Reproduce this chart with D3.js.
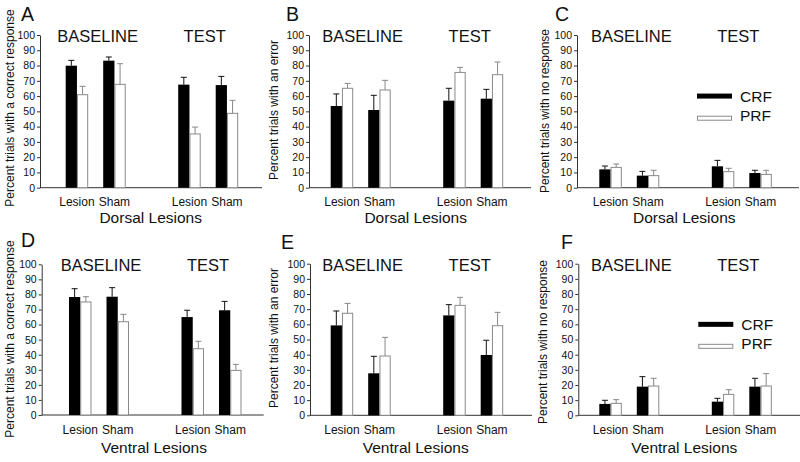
<!DOCTYPE html>
<html>
<head>
<meta charset="utf-8">
<script src="https://cdn.jsdelivr.net/npm/d3@7"></script>
<style>
  html, body { margin: 0; padding: 0; background: #fff; }
  svg { display: block; }
  text { font-family: "Liberation Sans", Arial, sans-serif; fill: #111; }
</style>
</head>
<body>
<svg id="chart" width="800" height="462"></svg>
<script>
// ---------- data ----------
const phases = ["BASELINE", "TEST"];
const groups = ["Lesion", "Sham"];
const series = ["CRF", "PRF"];
const yTicks = [0, 10, 20, 30, 40, 50, 60, 70, 80, 90, 100];

const panelLetters = ["A", "B", "C", "D", "E", "F"];
const yLabels = [
  "Percent trials with a correct response",
  "Percent trials with an error",
  "Percent trials with no response",
  "Percent trials with a correct response",
  "Percent trials with an error",
  "Percent trials with no response"
];
const xTitles = ["Dorsal Lesions", "Dorsal Lesions", "Dorsal Lesions",
                 "Ventral Lesions", "Ventral Lesions", "Ventral Lesions"];

// order in each array: BASELINE-Lesion, BASELINE-Sham, TEST-Lesion, TEST-Sham
const crfA = [79.9, 83.2, 67.5, 67.2];  const crfErrA = [3.5, 2.4, 4.8, 5.7];
const prfA = [60.9, 67.7, 35.2, 48.7];  const prfErrA = [5.5, 13.5, 4.5, 8.5];
const crfB = [53.5, 50.9, 57.0, 58.3];  const crfErrB = [7.9, 9.6, 8.1, 6.1];
const prfB = [65.1, 64.0, 75.5, 74.0];  const prfErrB = [3.2, 6.3, 3.3, 8.3];
const crfC = [12.0, 7.9, 14.0, 9.6];    const crfErrC = [2.2, 2.8, 3.9, 1.8];
const prfC = [13.3, 7.9, 10.5, 8.7];    const prfErrC = [2.2, 3.5, 2.2, 2.7];
const crfD = [78.3, 78.5, 65.0, 69.5];  const crfErrD = [5.5, 6.0, 4.5, 5.9];
const prfD = [75.0, 61.9, 44.0, 29.6];  const prfErrD = [3.5, 4.9, 4.9, 4.0];
const crfE = [59.3, 27.7, 65.9, 39.8];  const crfErrE = [9.5, 11.2, 7.1, 9.7];
const prfE = [67.3, 39.1, 72.5, 59.1];  const prfErrE = [6.5, 12.3, 5.3, 8.8];
const crfF = [7.5, 18.9, 9.0, 18.9];    const crfErrF = [2.4, 6.6, 2.2, 5.5];
const prfF = [7.9, 19.3, 13.8, 19.3];   const prfErrF = [2.4, 5.1, 3.1, 8.2];

const panelData = [
  { crf: crfA, crfErr: crfErrA, prf: prfA, prfErr: prfErrA, legend: false },
  { crf: crfB, crfErr: crfErrB, prf: prfB, prfErr: prfErrB, legend: false },
  { crf: crfC, crfErr: crfErrC, prf: prfC, prfErr: prfErrC, legend: true },
  { crf: crfD, crfErr: crfErrD, prf: prfD, prfErr: prfErrD, legend: false },
  { crf: crfE, crfErr: crfErrE, prf: prfE, prfErr: prfErrE, legend: false },
  { crf: crfF, crfErr: crfErrF, prf: prfF, prfErr: prfErrF, legend: true }
];

// ---------- layout ----------
const layout = [
  { axisX: 40,    top: 35,    bottom: 187.7, barStart: 65.7,  labX: 10,  labY: 108, letX: 21,  letY: 21 },
  { axisX: 309,   top: 35,    bottom: 187.7, barStart: 330.7, labX: 274, labY: 110, letX: 286, letY: 21 },
  { axisX: 577,   top: 35,    bottom: 187.7, barStart: 599.3, labX: 545, labY: 111, letX: 555, letY: 21 },
  { axisX: 41.7,  top: 264.3, bottom: 415,   barStart: 69,    labX: 10,  labY: 339, letX: 21,  letY: 247 },
  { axisX: 310,   top: 263.7, bottom: 415.3, barStart: 330.7, labX: 274, labY: 338, letX: 281, letY: 249 },
  { axisX: 578.3, top: 263.7, bottom: 415.3, barStart: 599.3, labX: 543, labY: 342, letX: 561, letY: 249 }
];

const svg = d3.select("#chart");
const slots = ["BASELINE|Lesion", "BASELINE|Sham", "gap", "TEST|Lesion", "TEST|Sham"];
const catKeys = ["BASELINE|Lesion", "BASELINE|Sham", "TEST|Lesion", "TEST|Sham"];

panelData.forEach((pd, i) => {
  const L = layout[i];
  const g = svg.append("g");

  const y = d3.scaleLinear().domain([0, 100]).range([L.bottom, L.top]);
  const x = d3.scaleBand().domain(slots)
    .range([L.barStart - 7.5, L.barStart + 180])
    .paddingInner(0.4).paddingOuter(0.2);
  const xs = d3.scaleBand().domain(series).range([0, x.bandwidth()]);

  // y axis
  const yAxis = d3.axisLeft(y).tickValues(yTicks).tickSize(3).tickSizeOuter(0).tickPadding(2);
  const ya = g.append("g").attr("transform", `translate(${L.axisX},0)`).call(yAxis);
  ya.select(".domain").attr("stroke", "#333");
  ya.selectAll(".tick line").attr("stroke", "#333");
  ya.selectAll(".tick text").attr("font-size", 10.5)
    .attr("font-family", "'Liberation Sans', Arial, sans-serif").attr("fill", "#222");

  // x axis baseline
  g.append("line")
    .attr("x1", L.axisX).attr("x2", L.axisX + 222)
    .attr("y1", L.bottom).attr("y2", L.bottom)
    .attr("stroke", "#333").attr("stroke-width", 1);

  // bars
  const rows = [];
  catKeys.forEach((k, j) => {
    rows.push({ key: k, s: "CRF", v: pd.crf[j], e: pd.crfErr[j] });
    rows.push({ key: k, s: "PRF", v: pd.prf[j], e: pd.prfErr[j] });
  });

  // error bars
  rows.forEach(r => {
    const cx = x(r.key) + xs(r.s) + xs.bandwidth() / 2;
    const col = r.s === "CRF" ? "#111" : "#888";
    g.append("line").attr("x1", cx).attr("x2", cx)
      .attr("y1", y(r.v)).attr("y2", y(r.v + r.e))
      .attr("stroke", col).attr("stroke-width", 1);
    g.append("line").attr("x1", cx - 3).attr("x2", cx + 3)
      .attr("y1", y(r.v + r.e)).attr("y2", y(r.v + r.e))
      .attr("stroke", col).attr("stroke-width", 1);
  });

  g.selectAll("rect.bar").data(rows).join("rect")
    .attr("class", "bar")
    .attr("x", d => x(d.key) + xs(d.s) + (d.s === "PRF" ? 0.5 : 0))
    .attr("y", d => y(d.v))
    .attr("width", d => xs.bandwidth() - (d.s === "PRF" ? 1 : 0))
    .attr("height", d => y(0) - y(d.v))
    .attr("fill", d => d.s === "CRF" ? "#000" : "#fff")
    .attr("stroke", d => d.s === "CRF" ? "none" : "#8a8a8a")
    .attr("stroke-width", 1);

  // group labels under bars
  catKeys.forEach(k => {
    g.append("text")
      .attr("x", x(k) + x.bandwidth() / 2)
      .attr("y", L.bottom + 18.5)
      .attr("text-anchor", "middle")
      .attr("font-size", 12)
      .text(k.split("|")[1]);
  });

  // phase titles
  g.append("text").attr("x", L.barStart + 32).attr("y", L.top + 7)
    .attr("text-anchor", "middle").attr("font-size", 16.5).text(phases[0]);
  g.append("text").attr("x", L.barStart + 139).attr("y", L.top + 7)
    .attr("text-anchor", "middle").attr("font-size", 16.5).text(phases[1]);

  // x title
  g.append("text").attr("x", L.barStart + 85).attr("y", L.bottom + (i < 3 ? 35 : 38))
    .attr("text-anchor", "middle").attr("font-size", 15.5).text(xTitles[i]);

  // y label
  g.append("text")
    .attr("transform", `translate(${L.labX},${L.labY}) rotate(-90)`)
    .attr("text-anchor", "middle").attr("dominant-baseline", "central")
    .attr("font-size", 12).text(yLabels[i]);

  // panel letter
  g.append("text").attr("x", L.letX).attr("y", L.letY)
    .attr("font-size", 19.5).text(panelLetters[i]);

  // legend
  if (pd.legend) {
    const lx = L.axisX + 120;
    const ly = y(60);
    g.append("rect").attr("x", lx).attr("y", ly - 2.5).attr("width", 35).attr("height", 5).attr("fill", "#000");
    g.append("text").attr("x", lx + 43).attr("y", ly).attr("dominant-baseline", "central")
      .attr("font-size", 15.5).text(series[0]);
    g.append("rect").attr("x", lx + 0.5).attr("y", y(45.5) - 2).attr("width", 34).attr("height", 4)
      .attr("fill", "#fff").attr("stroke", "#8a8a8a");
    g.append("text").attr("x", lx + 43).attr("y", y(47.5)).attr("dominant-baseline", "central")
      .attr("font-size", 15.5).text(series[1]);
  }
});
</script>
</body>
</html>
